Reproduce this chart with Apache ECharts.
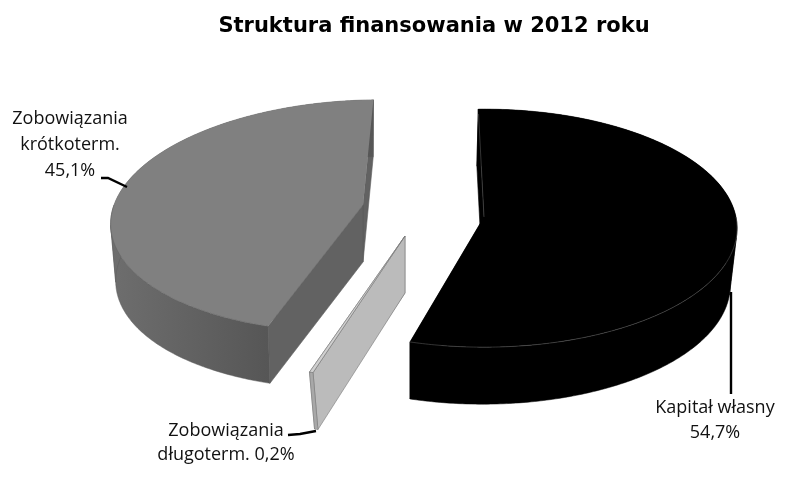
<!DOCTYPE html>
<html><head><meta charset="utf-8">
<style>html,body{margin:0;padding:0;background:#fff}#c{width:792px;height:501px}</style>
<script src="https://cdn.jsdelivr.net/npm/echarts@6/dist/echarts.min.js"></script>
</head><body><div id="c"></div>
<script>
const titleText = 'Struktura finansowania w 2012 roku';
const categories = ['Kapitał własny', 'Zobowiązania długoterm.', 'Zobowiązania krótkoterm.'];
const values = [54.7, 0.2, 45.1];
const labelTexts = ['Kapitał własny\n54,7%', 'Zobowiązania\ndługoterm. 0,2%', 'Zobowiązania\nkrótkoterm.\n45,1%'];

// drawing layout only (exploded 3D projection)
const FONT = '"Open Sans","Noto Sans",sans-serif';
const startDeg = -1.4, persp = 0.0935, depth = 57;
const geo = [
  {cx:484, cy:217, rx:252, ry:118, vp:483, tx:411, k:0.021},
  {cx:405, cy:236, rx:274, ry:129, vp:520, tx:405, k:0.053},
  {cx:363, cy:205, rx:249, ry:115, vp:550, tx:363, k:0.02}
];
const looks = [
  {top:'#000000', line:'#555555', wall:['#000000','#000000'], rad:'#000000', wallLine:'#000000', all:false},
  {top:'#d0d0d0', line:'#777777', wall:['#a8a8a8','#a8a8a8'], rad:'#bbbbbb', wallLine:'#777777', all:true},
  {top:'#808080', line:'#656565', wall:['#6e6e6e','#565656'], rad:'#626262', wallLine:'#5c5c5c', all:false}
];
const labelPos = [[715,420],[226,443],[70,145]];
const labelLine = [25,24,26];
const leaders = [
  [[731,292],[731,394]],
  [[288,435],[300,434],[316,431]],
  [[101,178],[108,178],[127,187]]
];

function proj(g, thetaDeg, r, low) {
  const t = thetaDeg * Math.PI / 180;
  const u = Math.sin(t) * r, v = -Math.cos(t) * r;
  const s = 1 / (1 - persp * v);
  let x = g.vp + (g.cx + g.rx * u - g.vp) * s;
  let y = g.cy + g.ry * v * s;
  if (low) { x += (g.tx - x) * g.k; y += depth; }
  return [x, y];
}
function arc(g, a, b, low) {
  const pts = [], n = Math.max(2, Math.ceil(Math.abs(b - a) * 1.5));
  for (let i = 0; i <= n; i++) pts.push(proj(g, a + (b - a) * i / n, 1, low));
  return pts;
}
const total = values.reduce((a, b) => a + b, 0);

function renderItem(params, api) {
  const i = params.dataIndex;
  let before = 0;
  for (let k = 0; k < i; k++) before += values[k];
  const val = api.value(0);
  const a = startDeg + before / total * 360, b = a + val / total * 360;
  const g = geo[i], c = looks[i];
  const poly = (points, fill, stroke, w) => ({type:'polygon', shape:{points},
    style:{fill, stroke: stroke || null, lineWidth: w === undefined ? 0.6 : w}});
  const line = (points, w) => ({type:'polyline', shape:{points}, style:{fill:null, stroke:c.line, lineWidth:w}});
  const top = arc(g, a, b, false), low = arc(g, a, b, true);
  const apexT = proj(g, 0, 0, false), apexB = proj(g, 0, 0, true);
  const kids = [];
  kids.push(poly([apexT, top[top.length-1], low[low.length-1], apexB], c.rad, c.wallLine));
  kids.push(poly([apexT, top[0], low[0], apexB], c.rad, c.wallLine));
  // outer wall, split at the silhouette so the ribbon never folds over itself
  const cuts = [a, 100, 260, b].filter(v => v >= a && v <= b);
  for (let j = 0; j + 1 < cuts.length; j++) {
    const tp = arc(g, cuts[j], cuts[j+1], false), lw = arc(g, cuts[j], cuts[j+1], true);
    kids.push({type:'polygon', shape:{points: tp.concat(lw.slice().reverse())},
      style:{fill:{type:'linear', x:0, y:0, x2:1, y2:0, colorStops:[{offset:0,color:c.wall[0]},{offset:1,color:c.wall[1]}]},
             stroke:c.wallLine, lineWidth:0.5}});
  }
  kids.push(poly([apexT].concat(top), c.top, c.all ? c.line : null, 0.6));
  if (!c.all) {
    const fa = Math.max(a, 90), fb = Math.min(b, 270);
    kids.push(line(arc(g, fa, fb, false), 0.6));
    kids.push(line([proj(g, a, 0.95, false), apexT], 0.6));
  }
  kids.push({type:'polyline', shape:{points:leaders[i]}, style:{fill:null, stroke:'#000', lineWidth:2.4}});
  kids.push({type:'text', x:labelPos[i][0], y:labelPos[i][1],
    style:{text:labelTexts[i], font:'18px '+FONT, fill:'#111', align:'center', verticalAlign:'middle', lineHeight:labelLine[i]}});
  return {type:'group', children:kids};
}

const chart = echarts.init(document.getElementById('c'), null, {renderer:'canvas'});
chart.setOption({
  animation:false,
  backgroundColor:'#fff',
  title:{text:titleText, left:429, top:11, textAlign:'center',
    textStyle:{fontFamily:'"DejaVu Sans"', fontWeight:'bold', fontSize:21, color:'#000'}},
  series:[{type:'custom', coordinateSystem:'none', renderItem,
    data: categories.map((n,i)=>({name:n, value:[values[i]]}))}]
});
</script></body></html>
